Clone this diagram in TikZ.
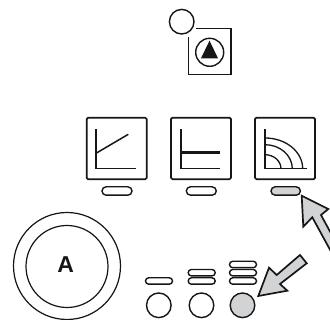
\documentclass[tikz,border=0pt]{standalone}
\usepackage{fontspec}
\setmainfont{Liberation Sans}
\definecolor{ink}{HTML}{161618}
\definecolor{pale}{HTML}{D1D3D4}
\tikzset{
 screen/.style={draw=ink,line width=1.7pt,rounded corners=1.5pt},
 axis/.style={draw=ink,line width=1.3pt},
 pill/.style={draw=ink,line width=1.4pt,fill=white},
 ring/.style={draw=ink,line width=1.4pt,fill=white},
 bigarrow/.style={draw=ink,line width=1.7pt,fill=pale,line join=miter},
}
% #1 x, #2 y, #3 half width, #4 half height, #5 options
\newcommand{\pillat}[5]{\draw[pill,rounded corners=#4pt,#5] (#1-#3,#2-#4) rectangle (#1+#3,#2+#4);}
\begin{document}
\begin{tikzpicture}[x=1pt,y=-1pt]
\useasboundingbox (0,0) rectangle (330,320);
\clip (0,0) rectangle (330,320);
% top symbol
\draw[ring] (181.7,21.7) circle (12.3);
\draw[axis] (195.7,28.7) -- (231,28.7) -- (231,74.7) -- (188.3,74.7) -- (188.3,36.7);
\draw[ring] (209.7,52.3) circle (14);
\fill[ink] (209.5,40.7) -- (218,58.3) -- (201,58.3) -- cycle;
% screens
\draw[screen] (86.7,117.7) rectangle (146.7,179.3);
\draw[axis] (96,129) -- (96,168.7) -- (135.7,168.7);
\draw[ink,line width=1.5pt] (96,153.3) -- (128.3,134.3);
\pillat{117}{191}{15}{4.2}{}
\draw[screen] (171,117.7) rectangle (231,179.3);
\draw[axis] (181,129) -- (181,168.7) -- (220,168.7);
\draw[ink,line width=2.8pt] (181,152.3) -- (220,152.3);
\pillat{201.3}{191}{15}{4.2}{}
\draw[screen] (255,117.7) rectangle (315,179.3);
\draw[axis] (265,129) -- (265,168.7) -- (307,168.7);
\draw[axis] (265,138) .. controls (285.8,138) and (302.7,151.7) .. (302.7,168.7);
\draw[axis] (265,144.7) .. controls (280.1,144.7) and (292.3,155.4) .. (292.3,168.7);
\draw[axis] (265,154.7) .. controls (273.8,154.7) and (281,161) .. (281,168.7);
\pillat{285.7}{191}{14.7}{4.2}{fill=pale}
% knob
\draw[ring,line width=1.2pt] (67,266) circle (53.5);
\draw[ring,line width=1.2pt] (67,266.5) circle (41);
\node[font=\bfseries,text=ink,scale=2.3] (lblA) at (65.7,265) {A};
% indicators
\pillat{159}{281}{13.5}{3.2}{}
\pillat{201.7}{281}{13.5}{3.2}{}
\pillat{201.7}{272.7}{13.5}{3.2}{}
\pillat{243}{281}{13.5}{3.2}{}
\pillat{243}{272.7}{13.5}{3.2}{}
\pillat{243}{264.5}{13.5}{3.2}{}
\draw[ring] (158.8,305.3) circle (12.3);
\draw[ring] (201.5,305.3) circle (12.3);
\draw[ring,fill=pale] (242.5,305.3) circle (12.3);
% arrows
\draw[bigarrow] (258.3,296) -- (269,267.7) -- (276.7,275) -- (300,255) -- (306.7,263.3) -- (280,284) -- (287.3,290.7) -- cycle;
\draw[bigarrow] (301.7,195.7) -- (303.3,226.7) -- (312.3,217.3) -- (340,268) -- (345,259) -- (321,215) -- (328.3,209) -- cycle;
\end{tikzpicture}
\end{document}
